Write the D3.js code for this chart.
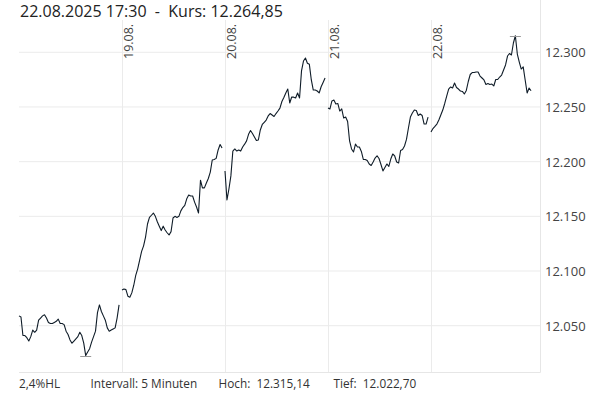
<!DOCTYPE html>
<html><head><meta charset="utf-8">
<script src="https://cdn.jsdelivr.net/npm/d3@7"></script>
<style>
html,body{margin:0;padding:0;background:#fff;}
svg text{font-family:"Open Sans",sans-serif;white-space:pre;}
</style></head>
<body>
<svg id="c" width="603" height="393"></svg>
<script>
// ---- data ----
const dayNames = ["18.08.","19.08.","20.08.","21.08.","22.08."];
const dayLabels = ["19.08.","20.08.","21.08.","22.08."];
const yTicks = [12050,12100,12150,12200,12250,12300];
const slotMinutes = 10; // samples every 10 minutes from 09:00
const titleText = "22.08.2025 17:30  -  Kurs: 12.264,85";
const footer = ["2,4%HL","Intervall: 5 Minuten","Hoch:  12.315,14","Tief:  12.022,70"];
const high = 12315.14, low = 12022.70;

const s18 = [12059,12058,12041,12041,12039,12036,12040,12046,12044,12046,12055,12057,12059,12060,12057,12053,12052,12052,12053,12054,12056,12052,12052,12051,12045,12042,12037,12034,12036,12038,12040,12044,12041,12034,12022.7,12026,12029,12035,12040,12045,12062,12069,12063,12059,12055,12048,12045,12046,12047,12048,12057,12069];
const s19 = [12082.6,12083.6,12083,12077,12076,12080,12087,12096,12102,12110,12118,12123,12131,12143,12149,12151,12153,12150,12145,12141,12137,12141,12137.5,12135,12133,12136,12148.5,12150,12149,12150,12155,12158,12160,12166,12169.5,12168.6,12168.6,12163,12158.5,12153,12183,12176,12176,12180.5,12184.6,12190.5,12201.5,12202,12203,12210.7,12215.7,12212.5];
const s20 = [12191.5,12165,12175,12187,12209.7,12211.6,12209.7,12210.7,12209.7,12213.4,12216,12219,12225,12228.5,12225.8,12222.5,12219.3,12219.8,12229,12234,12236,12238,12241.8,12244,12242.7,12241.3,12244,12246.3,12249,12255,12258.7,12262.8,12266.4,12253.6,12259.1,12259,12258.2,12262.8,12258.2,12283,12292,12294.8,12290,12289,12274.7,12265.5,12265.5,12264.6,12262.8,12268.5,12272.4,12276.5];
const s21 = [12249.1,12248.2,12255.5,12256.4,12252.7,12253.2,12246.3,12248.2,12239.9,12240.8,12236.7,12218.9,12211.6,12208.8,12216.1,12213.4,12213.4,12209.3,12202,12202,12201,12197.9,12196.5,12199.7,12203.3,12205.4,12202.9,12197.4,12191.5,12194.7,12197.9,12195.6,12202.4,12207,12205.2,12199.7,12198.8,12210.2,12211.1,12214.3,12220.3,12230.8,12240.8,12244.5,12247.2,12246.8,12242.2,12243.6,12242.2,12234.4,12234.4,12240.8];
const s22 = [12227.1,12230.3,12232.2,12234.4,12238.1,12242.7,12247.2,12253.2,12260,12266.4,12268.3,12267.4,12271.9,12267.8,12266.4,12264.6,12264.2,12261.9,12265.1,12273.3,12279.7,12281.5,12281.5,12282,12282,12278.3,12276.5,12274.7,12270.6,12271.5,12270.6,12271,12269.2,12275.1,12275.1,12277.4,12279.2,12283.8,12288.4,12296.6,12298.9,12297.5,12308.5,12315.14,12298.4,12291.1,12284.7,12286.6,12274.7,12262.8,12267.4,12264.85];
const series = [s18,s19,s20,s21,s22];

// ---- layout ----
const L = 19, R = 540, T = 20, B = 372;
const sessionLen = 525; // minutes per day slot on the axis
const svg = d3.select("#c");
const x = d3.scaleLinear().domain([0, 5]).range([L, L + 5*103]);
const y = d3.scaleLinear().domain([12050, 12300]).range([325.7, 52.3]);
const de = d3.formatLocale({decimal:",", thousands:".", grouping:[3], currency:["","€"]});
const fmt = de.format(",.0f");

// horizontal grid
svg.append("g").selectAll("line").data(yTicks).join("line")
  .attr("x1", L).attr("x2", R).attr("y1", d=>y(d)).attr("y2", d=>y(d))
  .attr("stroke", "#ebebeb").attr("stroke-width", 1);
// vertical day grid
svg.append("g").selectAll("line").data(dayLabels).join("line")
  .attr("x1", (d,i)=>Math.round(x(i+1))+0.5).attr("x2", (d,i)=>Math.round(x(i+1))+0.5)
  .attr("y1", T).attr("y2", B)
  .attr("stroke", "#ebebeb").attr("stroke-width", 1);
// borders
svg.append("line").attr("x1", L).attr("x2", R+0.5).attr("y1", B+0.5).attr("y2", B+0.5).attr("stroke", "#e6e6e6");
svg.append("line").attr("x1", R+0.5).attr("x2", R+0.5).attr("y1", 0).attr("y2", B+0.5).attr("stroke", "#e6e6e6");

// day labels (rotated)
svg.append("g").selectAll("text").data(dayLabels).join("text")
  .attr("transform", (d,i)=>`translate(${Math.round(x(i+1))+10.5},59) rotate(-90)`)
  .attr("font-size", 12.5).attr("fill", "#444").text(d=>d);

// y axis labels
const yAxis = d3.axisRight(y).tickValues(yTicks).tickSize(0).tickPadding(0).tickFormat(fmt);
const ya = svg.append("g").attr("transform", `translate(545,0)`).call(yAxis);
ya.select(".domain").remove();
ya.selectAll("text").attr("font-family", "Open Sans, sans-serif").attr("font-size", 13).attr("fill", "#444").attr("dy", "0.34em");

// lines per day
const line = d3.line().x(d=>x(d.t)).y(d=>y(d.v));
series.forEach((s, di) => {
  const pts = s.map((v, i) => ({t: di + (i*slotMinutes)/sessionLen, v}));
  svg.append("path").datum(pts).attr("d", line)
    .attr("fill", "none").attr("stroke", "#0f1c28").attr("stroke-width", 1.1).attr("stroke-linejoin", "round");
});

// high / low markers
function marker(val) {
  let best=null;
  series.forEach((s, di) => s.forEach((v,i)=>{ if (Math.abs(v-val)<0.01) best = di + (i*slotMinutes)/sessionLen; }));
  const cx = x(best);
  svg.append("line").attr("x1", cx-5.5).attr("x2", cx+5.5).attr("y1", Math.round(y(val))+0.5).attr("y2", Math.round(y(val))+0.5)
    .attr("stroke", "#999").attr("stroke-width", 1);
}
marker(high); marker(low);

// title
svg.append("text").attr("x", 20).attr("y", 17).attr("font-size", 16).attr("fill", "#222").text(titleText);
// footer
const fx = [19, 90.5, 218.5, 333.5];
svg.append("g").selectAll("text").data(footer).join("text")
  .attr("x", (d,i)=>fx[i]).attr("y", 388).attr("font-size", 11.8).attr("fill", "#333").text(d=>d);
</script>
</body></html>
